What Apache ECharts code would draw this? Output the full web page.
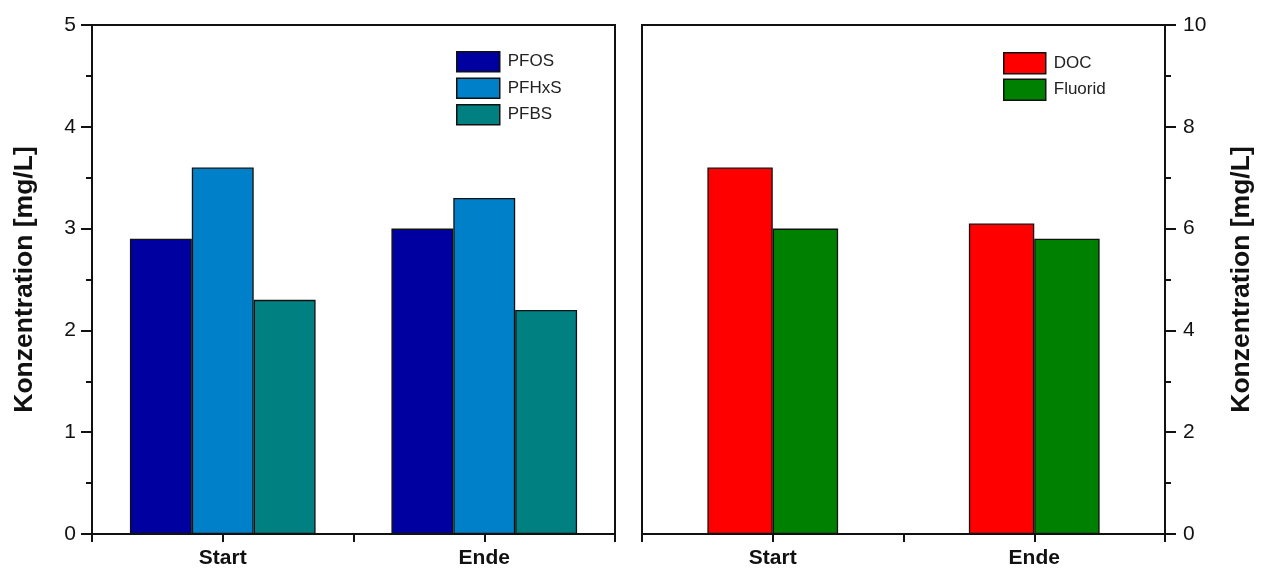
<!DOCTYPE html>
<html>
<head>
<meta charset="utf-8">
<script src="https://cdn.jsdelivr.net/npm/echarts@6/dist/echarts.min.js"></script>
<style>
html,body{margin:0;padding:0;background:#fff;}
#c{width:1266px;height:574px;}
</style>
</head>
<body>
<div id="c"></div>
<script>
const categories = ['Start', 'Ende'];
const pfos = [2.9, 3.0];
const pfhxs = [3.6, 3.3];
const pfbs = [2.3, 2.2];
const doc = [7.2, 6.1];
const fluorid = [6.0, 5.8];
const yName = 'Konzentration [mg/L]';

const FONT = '"Liberation Sans", Arial, sans-serif';
const BLACK = '#111';

const chart = echarts.init(document.getElementById('c'), null, {renderer: 'canvas'});

function xBase(gridIndex) {
  return {
    type: 'category', gridIndex: gridIndex, data: categories, boundaryGap: true,
    axisLine: {show: true, lineStyle: {color: BLACK, width: 2}},
    axisTick: {show: true, inside: false, length: 8, alignWithLabel: false, lineStyle: {color: BLACK, width: 2}},
    axisLabel: {show: true, margin: 14, fontFamily: FONT, fontSize: 21, fontWeight: 'bold', color: BLACK},
    splitLine: {show: false}
  };
}
function xCenter(gridIndex) {
  return {
    type: 'category', gridIndex: gridIndex, data: categories, boundaryGap: true, position: 'bottom',
    axisLine: {show: false},
    axisTick: {show: true, inside: false, length: 8, alignWithLabel: true, lineStyle: {color: BLACK, width: 2}},
    axisLabel: {show: false},
    splitLine: {show: false}
  };
}

const barBorder = {borderColor: BLACK, borderWidth: 1.3};

chart.setOption({
  backgroundColor: '#fff',
  animation: false,
  grid: [
    {left: 92, top: 25, width: 523, height: 509, show: true, borderColor: BLACK, borderWidth: 2, backgroundColor: 'transparent'},
    {left: 642, top: 25, width: 523, height: 509, show: true, borderColor: BLACK, borderWidth: 2, backgroundColor: 'transparent'}
  ],
  legend: [
    {
      data: ['PFOS', 'PFHxS', 'PFBS'], orient: 'vertical', left: 451, top: 46,
      itemWidth: 43, itemHeight: 20, itemGap: 5, icon: 'rect',
      itemStyle: {borderColor: BLACK, borderWidth: 1.5},
      textStyle: {fontFamily: FONT, fontSize: 17, color: '#222', padding: [0, 0, 0, 3]}
    },
    {
      data: ['DOC', 'Fluorid'], orient: 'vertical', left: 998, top: 47,
      itemWidth: 42, itemHeight: 21, itemGap: 4, icon: 'rect',
      itemStyle: {borderColor: BLACK, borderWidth: 1.5},
      textStyle: {fontFamily: FONT, fontSize: 17, color: '#222', padding: [0, 0, 0, 3]}
    }
  ],
  xAxis: [xBase(0), xCenter(0), xBase(1), xCenter(1)],
  yAxis: [
    {
      type: 'value', gridIndex: 0, min: 0, max: 5, interval: 1, position: 'left',
      name: yName, nameLocation: 'middle', nameGap: 54, nameRotate: 90,
      nameTextStyle: {fontFamily: FONT, fontSize: 26.5, fontWeight: 'bold', color: BLACK},
      axisLine: {show: true, lineStyle: {color: BLACK, width: 2}},
      axisTick: {show: true, inside: false, length: 11, lineStyle: {color: BLACK, width: 2}},
      minorTick: {show: true, splitNumber: 2, length: 6, lineStyle: {color: BLACK, width: 2}},
      axisLabel: {margin: 16, fontFamily: FONT, fontSize: 21, color: BLACK},
      splitLine: {show: false}
    },
    {
      type: 'value', gridIndex: 1, min: 0, max: 10, interval: 2, position: 'right',
      name: yName, nameLocation: 'middle', nameGap: 63, nameRotate: 90,
      nameTextStyle: {fontFamily: FONT, fontSize: 26.5, fontWeight: 'bold', color: BLACK},
      axisLine: {show: true, lineStyle: {color: BLACK, width: 2}},
      axisTick: {show: true, inside: false, length: 11, lineStyle: {color: BLACK, width: 2}},
      minorTick: {show: true, splitNumber: 2, length: 6, lineStyle: {color: BLACK, width: 2}},
      axisLabel: {margin: 18, fontFamily: FONT, fontSize: 21, color: BLACK},
      splitLine: {show: false}
    }
  ],
  series: [
    {name: 'PFOS', type: 'bar', xAxisIndex: 0, yAxisIndex: 0, data: pfos, barGap: '0%', barCategoryGap: '29%',
      itemStyle: Object.assign({color: '#0000A0'}, barBorder)},
    {name: 'PFHxS', type: 'bar', xAxisIndex: 0, yAxisIndex: 0, data: pfhxs, barGap: '0%', barCategoryGap: '29%',
      itemStyle: Object.assign({color: '#0080C8'}, barBorder)},
    {name: 'PFBS', type: 'bar', xAxisIndex: 0, yAxisIndex: 0, data: pfbs, barGap: '0%', barCategoryGap: '29%',
      itemStyle: Object.assign({color: '#008080'}, barBorder)},
    {name: 'DOC', type: 'bar', xAxisIndex: 2, yAxisIndex: 1, data: doc, barGap: '0%', barCategoryGap: '50%',
      itemStyle: Object.assign({color: '#FF0000'}, barBorder)},
    {name: 'Fluorid', type: 'bar', xAxisIndex: 2, yAxisIndex: 1, data: fluorid, barGap: '0%', barCategoryGap: '50%',
      itemStyle: Object.assign({color: '#008000'}, barBorder)}
  ]
});
</script>
</body>
</html>
